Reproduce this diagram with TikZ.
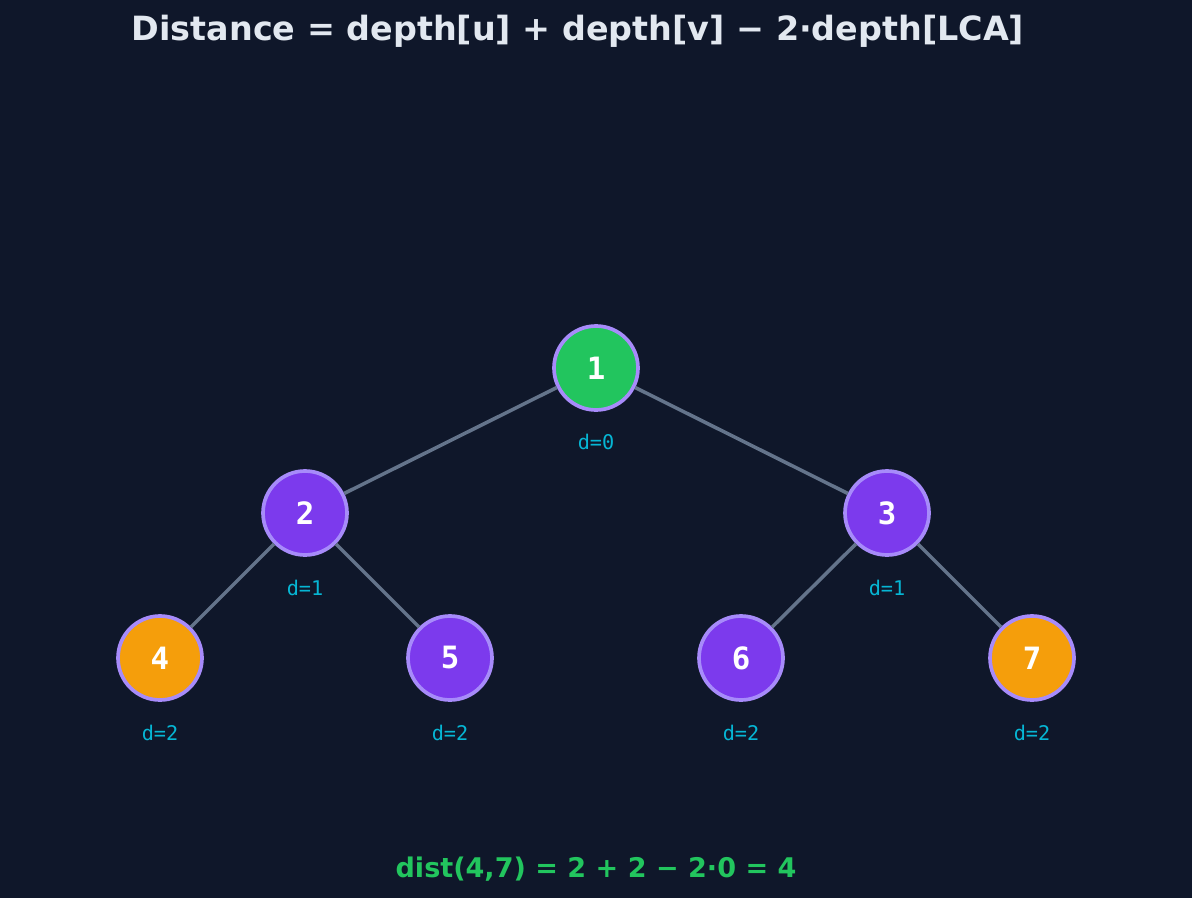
\documentclass[tikz,border=0pt]{standalone}
\usepackage{fontspec}
\setmainfont{DejaVu Sans}
\setmonofont{DejaVu Sans Mono}
\definecolor{bg}{HTML}{0F172A}
\definecolor{edge}{HTML}{64748B}
\definecolor{ring}{HTML}{A78BFA}
\definecolor{purp}{HTML}{7C3AED}
\definecolor{grn}{HTML}{22C55E}
\definecolor{org}{HTML}{F59E0B}
\definecolor{cyn}{HTML}{06B6D4}
\definecolor{ttl}{HTML}{E2E8F0}
\begin{document}
\begin{tikzpicture}[x=0.02cm,y=-0.02cm,
  nd/.style={circle,draw=ring,line width=2.1pt,minimum size=1.68cm,inner sep=0pt,text=white,font=\ttfamily\bfseries\fontsize{17.5}{17.5}\selectfont},
  dl/.style={text=cyn,font=\ttfamily\fontsize{11.5}{11.5}\selectfont},
  ed/.style={draw=edge,line width=2pt}]
\fill[bg] (0,0) rectangle (1192,898);
\node[text=ttl,font=\bfseries\fontsize{19}{19}\selectfont] (title) at (578,31) {Distance = depth[u] + depth[v] − 2·depth[LCA]};
\node[nd,fill=grn] (n1) at (596,368) {1};
\node[nd,fill=purp] (n2) at (305,513) {2};
\node[nd,fill=purp] (n3) at (887,513) {3};
\node[nd,fill=org] (n4) at (160,658) {4};
\node[nd,fill=purp] (n5) at (450,658) {5};
\node[nd,fill=purp] (n6) at (741,658) {6};
\node[nd,fill=org] (n7) at (1032,658) {7};
\draw[ed] (n1) -- (n2); \draw[ed] (n1) -- (n3);
\draw[ed] (n2) -- (n4); \draw[ed] (n2) -- (n5);
\draw[ed] (n3) -- (n6); \draw[ed] (n3) -- (n7);
\node[dl] (d1) at (596,442) {d=0};
\node[dl] (d2) at (305,588) {d=1};
\node[dl] (d3) at (887,588) {d=1};
\node[dl] (d4) at (160,733) {d=2};
\node[dl] (d5) at (450,733) {d=2};
\node[dl] (d6) at (741,733) {d=2};
\node[dl] (d7) at (1032,733) {d=2};
\node[text=grn,font=\bfseries\fontsize{15.4}{15.4}\selectfont] (res) at (596,869) {dist(4,7) = 2 + 2 − 2·0 = 4};
\end{tikzpicture}
\end{document}
